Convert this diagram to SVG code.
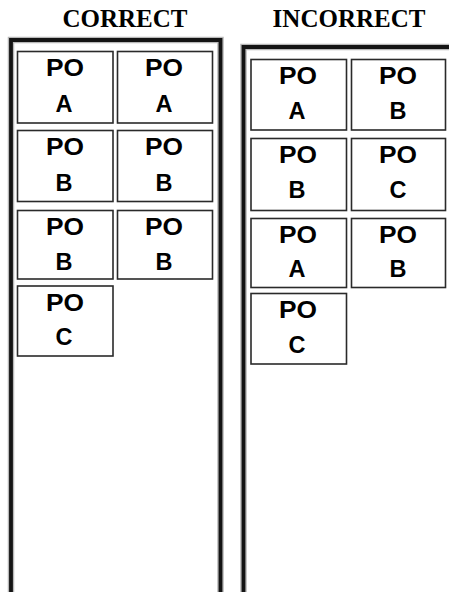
<svg xmlns="http://www.w3.org/2000/svg" width="449" height="592" viewBox="0 0 449 592">
<style>
.title{font-family:"Liberation Serif","Times New Roman",serif;font-weight:bold;font-size:25px;fill:#000;text-anchor:middle}
.box{fill:#fff;stroke:#2a2a2a;stroke-width:1.6}
.lbl{font-family:"Liberation Sans",Arial,sans-serif;font-weight:bold;font-size:23px;fill:#000;text-anchor:middle}
.frameShadow{fill:none;stroke:#b8b8b8;stroke-width:6.5}
.frame{fill:none;stroke:#141414;stroke-width:3.8}
</style>
<rect width="449" height="592" fill="#fff"/>
<text class="title" x="125" y="27">CORRECT</text>
<text class="title" x="349" y="27">INCORRECT</text>

<g id="correct-frame">
<path class="frameShadow" d="M11,600 V40 H220.5 V600"/>
<path class="frame" d="M11,600 V40 H220.5 V600"/>
</g>
<g id="incorrect-frame">
<path class="frameShadow" d="M243.5,600 V47 H452"/>
<path class="frame" d="M243.5,600 V47 H452"/>
</g>

<g id="c-r1-1"><rect class="box" x="17.5" y="51.5" width="95.5" height="71.5"/><text class="lbl" x="65" y="76" textLength="38" lengthAdjust="spacingAndGlyphs">PO</text><text class="lbl" x="64" y="111.5" textLength="17" lengthAdjust="spacingAndGlyphs">A</text></g>
<g id="c-r1-2"><rect class="box" x="117.5" y="51.5" width="95" height="71.5"/><text class="lbl" x="164" y="76" textLength="38" lengthAdjust="spacingAndGlyphs">PO</text><text class="lbl" x="164" y="111.5" textLength="17" lengthAdjust="spacingAndGlyphs">A</text></g>
<g id="c-r2-1"><rect class="box" x="17.5" y="130.5" width="95.5" height="71"/><text class="lbl" x="65" y="155" textLength="38" lengthAdjust="spacingAndGlyphs">PO</text><text class="lbl" x="64" y="190.5" textLength="17" lengthAdjust="spacingAndGlyphs">B</text></g>
<g id="c-r2-2"><rect class="box" x="117.5" y="130.5" width="95" height="71"/><text class="lbl" x="164" y="155" textLength="38" lengthAdjust="spacingAndGlyphs">PO</text><text class="lbl" x="164" y="190.5" textLength="17" lengthAdjust="spacingAndGlyphs">B</text></g>
<g id="c-r3-1"><rect class="box" x="17.5" y="210.5" width="95.5" height="68.5"/><text class="lbl" x="65" y="235" textLength="38" lengthAdjust="spacingAndGlyphs">PO</text><text class="lbl" x="64" y="270" textLength="17" lengthAdjust="spacingAndGlyphs">B</text></g>
<g id="c-r3-2"><rect class="box" x="117.5" y="210.5" width="95" height="68.5"/><text class="lbl" x="164" y="235" textLength="38" lengthAdjust="spacingAndGlyphs">PO</text><text class="lbl" x="164" y="270" textLength="17" lengthAdjust="spacingAndGlyphs">B</text></g>
<g id="c-r4-1"><rect class="box" x="17.5" y="286" width="95.5" height="70"/><text class="lbl" x="65" y="310.5" textLength="38" lengthAdjust="spacingAndGlyphs">PO</text><text class="lbl" x="64" y="345" textLength="17" lengthAdjust="spacingAndGlyphs">C</text></g>

<g id="i-r1-1"><rect class="box" x="251" y="59.5" width="95.5" height="70.5"/><text class="lbl" x="298" y="84" textLength="38" lengthAdjust="spacingAndGlyphs">PO</text><text class="lbl" x="297" y="119" textLength="17" lengthAdjust="spacingAndGlyphs">A</text></g>
<g id="i-r1-2"><rect class="box" x="351.5" y="59.5" width="94" height="70.5"/><text class="lbl" x="398" y="84" textLength="38" lengthAdjust="spacingAndGlyphs">PO</text><text class="lbl" x="398" y="119" textLength="17" lengthAdjust="spacingAndGlyphs">B</text></g>
<g id="i-r2-1"><rect class="box" x="251" y="138.5" width="95.5" height="72"/><text class="lbl" x="298" y="163" textLength="38" lengthAdjust="spacingAndGlyphs">PO</text><text class="lbl" x="297" y="198" textLength="17" lengthAdjust="spacingAndGlyphs">B</text></g>
<g id="i-r2-2"><rect class="box" x="351.5" y="138.5" width="94" height="72"/><text class="lbl" x="398" y="163" textLength="38" lengthAdjust="spacingAndGlyphs">PO</text><text class="lbl" x="398" y="198" textLength="17" lengthAdjust="spacingAndGlyphs">C</text></g>
<g id="i-r3-1"><rect class="box" x="251" y="218.5" width="95.5" height="69"/><text class="lbl" x="298" y="243" textLength="38" lengthAdjust="spacingAndGlyphs">PO</text><text class="lbl" x="297" y="277" textLength="17" lengthAdjust="spacingAndGlyphs">A</text></g>
<g id="i-r3-2"><rect class="box" x="351.5" y="218.5" width="94" height="69"/><text class="lbl" x="398" y="243" textLength="38" lengthAdjust="spacingAndGlyphs">PO</text><text class="lbl" x="398" y="277" textLength="17" lengthAdjust="spacingAndGlyphs">B</text></g>
<g id="i-r4-1"><rect class="box" x="251" y="293.5" width="95.5" height="70.5"/><text class="lbl" x="298" y="318" textLength="38" lengthAdjust="spacingAndGlyphs">PO</text><text class="lbl" x="297" y="353" textLength="17" lengthAdjust="spacingAndGlyphs">C</text></g>

<g id="connectors"></g>
</svg>
